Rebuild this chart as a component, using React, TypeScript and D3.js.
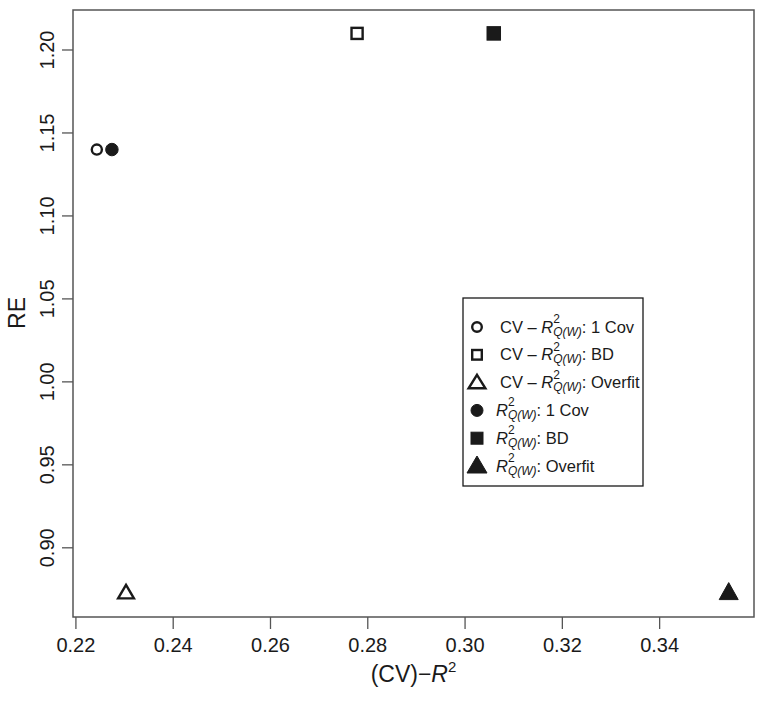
import React from "react";
import * as d3 from "d3";

// ---- data ----
const seriesNames = [
  "CV – R2Q(W): 1 Cov",
  "CV – R2Q(W): BD",
  "CV – R2Q(W): Overfit",
  "R2Q(W): 1 Cov",
  "R2Q(W): BD",
  "R2Q(W): Overfit",
];
const seriesPrefix = ["CV – ", "CV – ", "CV – ", "", "", ""];
const seriesSuffix = [": 1 Cov", ": BD", ": Overfit", ": 1 Cov", ": BD", ": Overfit"];
const seriesShape = ["circle", "square", "triangle", "circle", "square", "triangle"];
const seriesFilled = [false, false, false, true, true, true];
const xValues = [0.2243, 0.2778, 0.2303, 0.2274, 0.3059, 0.3542];
const yValues = [1.14, 1.21, 0.873, 1.14, 1.21, 0.873];
const xTicks = [0.22, 0.24, 0.26, 0.28, 0.3, 0.32, 0.34];
const yTicks = [0.9, 0.95, 1.0, 1.05, 1.1, 1.15, 1.2];

const W = 764;
const H = 703;
const FONT = "'Liberation Sans', Arial, Helvetica, sans-serif";
const AXIS = "#555";
const INK = "#1a1a1a";

const x = d3.scaleLinear().domain([0.2194, 0.3594]).range([73, 754]);
const y = d3.scaleLinear().domain([0.8583, 1.2241]).range([617, 10]);
const fmt = d3.format(".2f");

function Marker({ shape, filled, cx, cy, size }: { shape: string; filled: boolean; cx: number; cy: number; size: number }) {
  const fill = filled ? INK : "#fff";
  const sw = filled ? 1 : 2.4;
  if (shape === "circle") {
    const r = size / 2;
    return <circle cx={cx} cy={cy} r={filled ? r : r - 1.2} fill={fill} stroke={INK} strokeWidth={sw} />;
  }
  if (shape === "square") {
    const s = filled ? size : size - 2.4;
    return <rect x={cx - s / 2} y={cy - s / 2} width={s} height={s} fill={fill} stroke={INK} strokeWidth={sw} />;
  }
  const inset = filled ? 0 : 1.6;
  const hw = size / 2 - inset;
  const top = cy - 10 + inset * 1.4;
  const bot = cy + 7 - inset * 0.8;
  const d = d3.line()([
    [cx, top],
    [cx + hw, bot],
    [cx - hw, bot],
  ]) + "Z";
  return <path d={d} fill={fill} stroke={INK} strokeWidth={filled ? 1 : 2.4} strokeLinejoin="miter" />;
}

export default function App() {
  const legendX = 463;
  const legendY = 298;
  const legendW = 180;
  const legendH = 188;
  const rowY0 = 327;
  const rowStep = 27.8;

  return (
    <svg width={W} height={H} style={{ position: "absolute", left: 0, top: 0, background: "#fff" }} fontFamily={FONT}>
      <rect x={0} y={0} width={W} height={H} fill="#fff" />
      {/* plot box */}
      <rect x={73} y={10} width={681} height={607} fill="none" stroke={AXIS} strokeWidth={1.5} />

      {/* x axis */}
      {xTicks.map((t) => (
        <g key={"x" + t}>
          <line x1={x(t)} x2={x(t)} y1={617} y2={629} stroke={AXIS} strokeWidth={1.3} />
          <text x={x(t)} y={652} textAnchor="middle" fontSize={20} fill={INK}>
            {fmt(t)}
          </text>
        </g>
      ))}
      {/* y axis */}
      {yTicks.map((t) => (
        <g key={"y" + t}>
          <line x1={62} x2={73} y1={y(t)} y2={y(t)} stroke={AXIS} strokeWidth={1.3} />
          <text
            x={54}
            y={y(t)}
            transform={`rotate(-90, 54, ${y(t)})`}
            textAnchor="middle"
            fontSize={20}
            fill={INK}
          >
            {fmt(t)}
          </text>
        </g>
      ))}

      {/* axis titles */}
      <text x={413.5} y={682} textAnchor="middle" fontSize={23} fill={INK}>
        (CV)−<tspan fontStyle="italic">R</tspan>
        <tspan fontSize={15} dy={-10}>2</tspan>
      </text>
      <text x={25} y={313} transform="rotate(-90, 25, 313)" textAnchor="middle" fontSize={23} fill={INK}>
        RE
      </text>

      {/* points */}
      {xValues.map((v, i) => (
        <Marker key={"p" + i} shape={seriesShape[i]} filled={seriesFilled[i]} cx={x(v)} cy={y(yValues[i])} size={seriesShape[i] === "triangle" ? 19 : seriesShape[i] === "square" ? 13.5 : 12.5} />
      ))}

      {/* legend */}
      <rect x={legendX} y={legendY} width={legendW} height={legendH} fill="#fff" stroke={INK} strokeWidth={1.3} />
      {seriesNames.map((name, i) => {
        const cy = rowY0 + i * rowStep;
        const tx = seriesPrefix[i] ? 500 : 496;
        return (
          <g key={"l" + i}>
            <Marker shape={seriesShape[i]} filled={seriesFilled[i]} cx={477} cy={cy} size={seriesShape[i] === "triangle" ? 20 : 12} />
            <text x={tx} y={cy + 5.5} fontSize={16.5} fill={INK}>
              {seriesPrefix[i]}
              <tspan fontStyle="italic">R</tspan>
              <tspan fontSize={12} dy={-9.5}>2</tspan>
              <tspan fontSize={12} fontStyle="italic" dx={-6.7} dy={12.5}>Q(W)</tspan>
              <tspan dy={-3}>{seriesSuffix[i]}</tspan>
            </text>
          </g>
        );
      })}
    </svg>
  );
}
